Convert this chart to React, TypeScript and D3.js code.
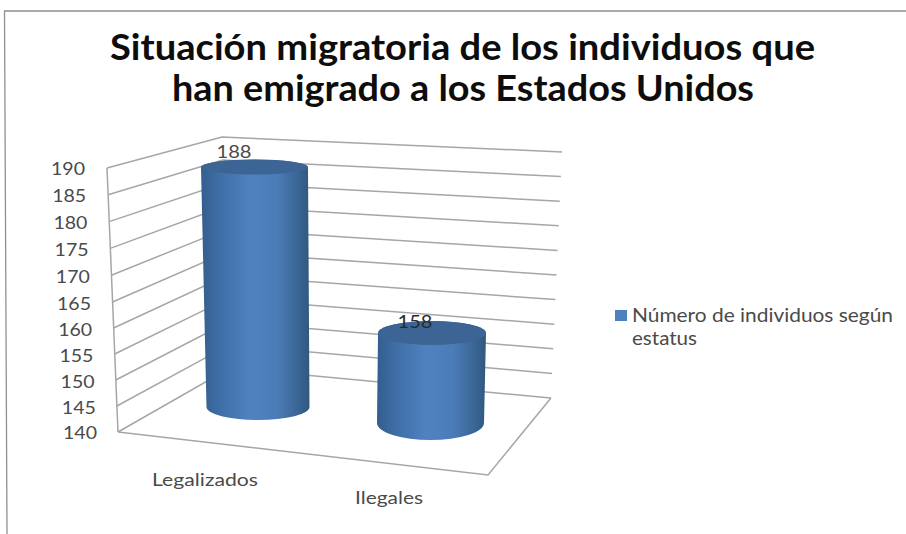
import React from "react";
import * as d3 from "d3";

const titleLines = ["Situación migratoria de los individuos que", "han emigrado a los Estados Unidos"];
const categories = ["Legalizados", "Ilegales"];
const individuals = [188, 158];
const yTicks = [140, 145, 150, 155, 160, 165, 170, 175, 180, 185, 190];
const legendLines = ["Número de individuos según", "estatus"];

const W = 906;
const H = 534;
const FONT = "Lato, 'Open Sans', sans-serif";
const INK = "#4a4a4a";
const GRID = "#a6a6a6";

// Corners of the 3D box: each scale maps an axis value to a position on one wall edge.
const domain: [number, number] = [140, 190];
const frontX = d3.scaleLinear().domain(domain).range([118, 107]);
const frontY = d3.scaleLinear().domain([140, 165, 190]).range([432, 302, 168]);
const backX = d3.scaleLinear().domain(domain).range([230, 222]);
const backY = d3.scaleLinear().domain(domain).range([368, 137]);
const rightX = d3.scaleLinear().domain(domain).range([551, 562]);
const rightY = d3.scaleLinear().domain(domain).range([398, 152]);
const tickX = d3.scaleLinear().domain(domain).range([97, 85]);
const tickY = d3.scaleLinear().domain([140, 165, 190]).range([433, 304, 169]);

// Column height in pixels above its floor position.
const columnHeight = d3.scaleLinear().domain(domain).range([0, 250]);

const columnLayout = [
  { baseX: 258, baseY: 407, baseRx: 51.5, baseRy: 13, topX: 254.5, topRx: 53.5, topRy: 7.5, label: [234, 152], cat: [152, 480, 106] },
  { baseX: 430.5, baseY: 423, baseRx: 53.5, baseRy: 17, topX: 432, topRx: 54, topRy: 12, label: [415, 322], cat: [355, 498, 68] },
];

const line = d3.line();

function Column({ i }: { i: number }) {
  const c = columnLayout[i];
  const topY = c.baseY - columnHeight(individuals[i]);
  const body =
    `M${c.topX - c.topRx},${topY}` +
    `L${c.baseX - c.baseRx},${c.baseY}` +
    `A${c.baseRx},${c.baseRy} 0 0 0 ${c.baseX + c.baseRx},${c.baseY}` +
    `L${c.topX + c.topRx},${topY}` +
    `A${c.topRx},${c.topRy} 0 0 0 ${c.topX - c.topRx},${topY}Z`;
  return (
    <g>
      <path d={body} fill="url(#cylinderSide)" />
      <ellipse cx={c.topX} cy={topY} rx={c.topRx} ry={c.topRy} fill="#3c6595" />
    </g>
  );
}

export default function App() {
  return (
    <svg
      width={W}
      height={H}
      viewBox={`0 0 ${W} ${H}`}
      style={{ position: "absolute", left: 0, top: 0, background: "#fff", fontFamily: FONT }}
    >
      <defs>
        <linearGradient id="cylinderSide" x1="0" x2="1" y1="0" y2="0">
          <stop offset="0" stopColor="#345d8c" />
          <stop offset="0.12" stopColor="#3b6a9f" />
          <stop offset="0.45" stopColor="#4f82c0" />
          <stop offset="0.7" stopColor="#4a7cb7" />
          <stop offset="0.9" stopColor="#396593" />
          <stop offset="1" stopColor="#30587f" />
        </linearGradient>
      </defs>

      {/* Frame around the chart area */}
      <path d={line([[906, 11], [4.5, 11], [7, 534]]) ?? ""} fill="none" stroke="#8f8f8f" strokeWidth={1.3} />

      {titleLines.map((t, i) => (
        <text
          key={t}
          x={i === 0 ? 110 : 172}
          y={i === 0 ? 60 : 101}
          fontSize={36}
          fontWeight={700}
          fill="#0d0d0d"
          textLength={i === 0 ? 705 : 582}
          lengthAdjust="spacingAndGlyphs"
        >
          {t}
        </text>
      ))}

      {/* Walls and floor of the 3D box */}
      <g fill="none" stroke={GRID} strokeWidth={1.5}>
        {yTicks.map((v) => (
          <path
            key={v}
            d={line([[frontX(v), frontY(v)], [backX(v), backY(v)], [rightX(v), rightY(v)]]) ?? ""}
          />
        ))}
        <path d={line([[frontX(190), frontY(190)], [frontX(140), frontY(140)]]) ?? ""} />
        <path
          d={line([[frontX(140), frontY(140)], [488, 475], [rightX(140), rightY(140)]]) ?? ""}
        />
      </g>

      {yTicks.map((v) => (
        <text
          key={v}
          x={tickX(v)}
          y={tickY(v)}
          dy="0.35em"
          textAnchor="end"
          fontSize={18}
          fill={INK}
          textLength={34}
          lengthAdjust="spacingAndGlyphs"
        >
          {v}
        </text>
      ))}

      {individuals.map((_, i) => (
        <Column key={categories[i]} i={i} />
      ))}

      {individuals.map((v, i) => (
        <text
          key={categories[i]}
          x={columnLayout[i].label[0]}
          y={columnLayout[i].label[1]}
          dy="0.35em"
          textAnchor="middle"
          fontSize={18}
          fill={i === 0 ? INK : "#2a2a2a"}
          textLength={35}
          lengthAdjust="spacingAndGlyphs"
        >
          {v}
        </text>
      ))}

      {categories.map((c, i) => (
        <text
          key={c}
          x={columnLayout[i].cat[0]}
          y={columnLayout[i].cat[1]}
          dy="0.35em"
          fontSize={18}
          fill={INK}
          textLength={columnLayout[i].cat[2]}
          lengthAdjust="spacingAndGlyphs"
        >
          {c}
        </text>
      ))}

      {/* Legend */}
      <rect x={615} y={310} width={12} height={11} fill="#4f81bd" />
      {legendLines.map((t, i) => (
        <text
          key={t}
          x={632}
          y={i === 0 ? 315 : 338}
          dy="0.35em"
          fontSize={19}
          fill={INK}
          textLength={i === 0 ? 261 : 65}
          lengthAdjust="spacingAndGlyphs"
        >
          {t}
        </text>
      ))}
    </svg>
  );
}
